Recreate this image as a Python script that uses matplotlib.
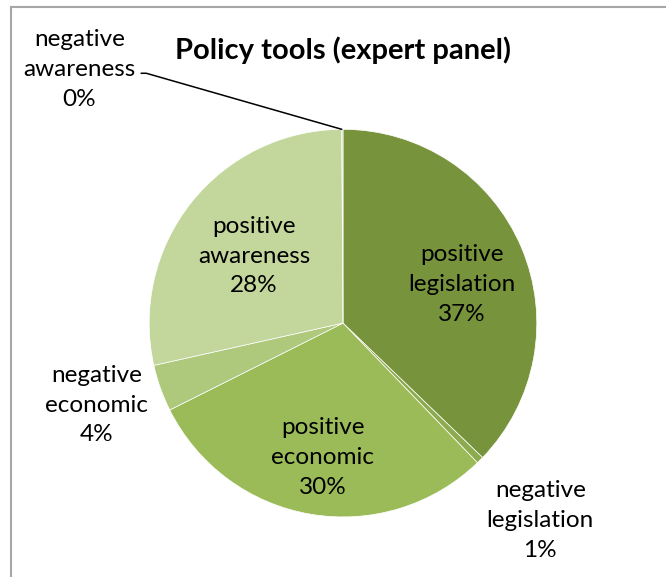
import numpy as np
import matplotlib
matplotlib.use('Agg')
import matplotlib.pyplot as plt
from matplotlib.lines import Line2D

# slices, clockwise from 12 o'clock
kategorier = ['positive\nlegislation', 'negative\nlegislation', 'positive\neconomic',
              'negative\neconomic', 'positive\nawareness', 'negative\nawareness']
andeler = [37.2, 0.6, 29.8, 3.9, 28.4, 0.1]
farger = ['#77933C', '#8CAA4E', '#9BBB59', '#AFC97C', '#C3D69B', '#C3D69B']
# label placement: (radius as fraction of pie radius, angle in degrees)
etikett_pos = [(0.645, 18), (1.44, -45), (0.70, -98.5), (1.34, -161.6), (0.575, 143), None]


def main():
    plt.rcParams['font.family'] = ['Lato', 'DejaVu Sans']
    fig = plt.figure(figsize=(6.66, 5.77), dpi=100)
    ax = fig.add_axes([0.224, 0.104, 0.582, 0.672])

    wedges, _ = ax.pie(andeler, colors=farger, startangle=90, counterclock=False,
                       wedgeprops=dict(edgecolor='white', linewidth=0.5))
    ax.set_xlim(-1, 1)
    ax.set_ylim(-1, 1)

    for w, navn, pct, pos in zip(wedges, kategorier, andeler, etikett_pos):
        tekst = f"{navn}\n{round(pct):.0f}%"
        if pos is None:
            # label with leader line to the top of the pie
            x0 = np.cos(np.deg2rad(w.theta2))
            y0 = np.sin(np.deg2rad(w.theta2))
            ax.annotate(tekst, xy=(x0, y0), xytext=(-1.36, 1.31),
                        ha='center', va='center', fontsize=17.5, linespacing=1.52,
                        annotation_clip=False,
                        arrowprops=dict(arrowstyle='-', color='black', lw=1.1,
                                        shrinkA=2, shrinkB=0, relpos=(1.0, 0.45),
                                        connectionstyle='angle,angleA=0,angleB=-16,rad=0'))
            continue
        r, vinkel = pos
        vinkel = np.deg2rad(vinkel)
        ax.text(r * np.cos(vinkel), r * np.sin(vinkel), tekst,
                ha='center', va='center', fontsize=17.5, linespacing=1.52)

    fig.text(0.515, 0.913, 'Policy tools (expert panel)', ha='center', va='center',
             fontsize=21, fontweight='bold')

    # chart frame (only left and top edge visible)
    fig.add_artist(Line2D([0.016, 0.016], [0.0, 0.988], color='#A6A6A6', lw=1.5))
    fig.add_artist(Line2D([0.016, 1.0], [0.988, 0.988], color='#A6A6A6', lw=1.5))

    fig.savefig('out.png', dpi=100)


if __name__ == "__main__":
    main()
